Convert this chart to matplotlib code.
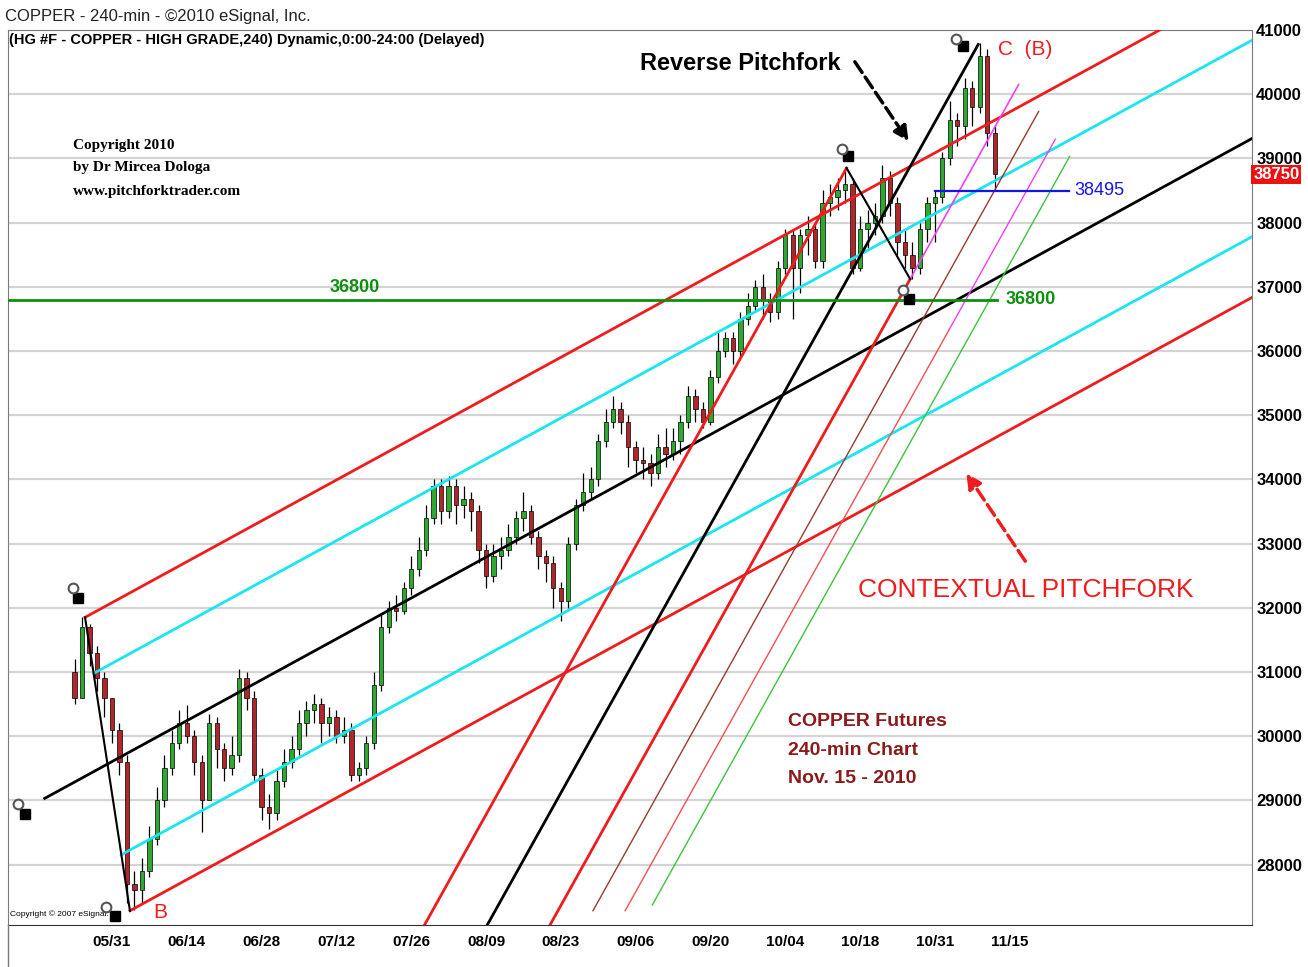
import numpy as np
import matplotlib
matplotlib.use("Agg")
import matplotlib.pyplot as plt
from matplotlib.transforms import offset_copy, blended_transform_factory
from matplotlib.lines import Line2D

plt.rcParams['font.family'] = ['Liberation Sans', 'DejaVu Sans']

# --- DATA ---
# x axis = trading days counted from 05/31
date_ticks = [0, 10, 20, 30, 40, 50, 60, 70, 80, 90, 100, 110, 120]
date_labels = ["05/31", "06/14", "06/28", "07/12", "07/26", "08/09", "08/23",
               "09/06", "09/20", "10/04", "10/18", "10/31", "11/15"]
price_ticks = [28000, 29000, 30000, 31000, 32000, 33000, 34000,
               35000, 36000, 37000, 38000, 39000, 40000, 41000]

first_day = -5
first_open = 31000
closes = [30600, 31700, 31300, 30900, 30600, 30100, 29600, 27700, 27600, 27900,
          28400, 29000, 29500, 29900, 30200, 30000, 29600, 29000, 30200, 29800,
          29500, 29700, 30900, 30600, 29400, 28900, 28800, 29300, 29600, 29800,
          30200, 30400, 30500, 30200, 30300, 30000, 30100, 29400, 29500, 29900,
          30800, 31700, 32000, 31950, 32300, 32600, 32900, 33400, 33900, 33500,
          33900, 33600, 33700, 33500, 32900, 32500, 32800, 32900, 33100, 33400,
          33500, 33100, 32800, 32700, 32300, 32100, 33000, 33600, 33800, 34000,
          34600, 34900, 35100, 34900, 34500, 34300, 34250, 34100, 34500, 34400,
          34600, 34900, 35300, 35100, 34900, 35600, 36000, 36200, 36000, 36500,
          36700, 37000, 36800, 36600, 37300, 37800, 37300, 37800, 37900, 37400,
          38300, 38400, 38500, 38600, 37300, 37900, 38000, 38100, 38700, 38300,
          37700, 37500, 37300, 37900, 38300, 38400, 39000, 39600, 39500, 40100,
          39800, 40600, 39400, 38750]
highs = [31200, 31850, 31750, 31400, 31000, 30600, 30200, 29700, 27900, 28100,
         28600, 29200, 29700, 30100, 30400, 30480, 30100, 29700, 30350, 30300,
         29900, 30000, 31050, 31000, 30700, 29500, 29100, 29500, 29800, 30000,
         30400, 30550, 30650, 30600, 30450, 30400, 30300, 30200, 29600, 30000,
         31000, 31900, 32100, 32200, 32400, 32800, 33100, 33600, 34000, 34000,
         34060, 34000, 33900, 33800, 33600, 33000, 33000, 33100, 33300, 33500,
         33800, 33600, 33200, 32900, 32800, 32400, 33100, 33700, 34100, 34200,
         34700, 35100, 35300, 35200, 35000, 34600, 34500, 34400, 34700, 34800,
         34800, 35000, 35450, 35400, 35200, 35700, 36300, 36300, 36300, 36600,
         36900, 37100, 37200, 36900, 37400, 37900, 37900, 37900, 38100, 38000,
         38500, 38600, 38700, 38850, 38700, 38100, 38200, 38300, 38900, 38800,
         38400, 37900, 37700, 38000, 38400, 38500, 39100, 39900, 39700, 40250,
         40200, 40800, 40700, 39500]
lows = [30500, 30600, 31100, 30700, 30300, 29900, 29400, 27400, 27290, 27400,
        27800, 28300, 28900, 29400, 29800, 29900, 29400, 28500, 29000, 29500,
        29300, 29400, 29600, 30400, 29300, 28700, 28550, 28700, 29200, 29500,
        29700, 30000, 30200, 29900, 30000, 29900, 29900, 29300, 29300, 29400,
        29800, 30700, 31600, 31800, 31900, 32200, 32500, 32800, 33300, 33300,
        33400, 33300, 33400, 33200, 32700, 32300, 32400, 32600, 32800, 33000,
        33200, 33000, 32600, 32400, 32000, 31800, 32000, 32900, 33500, 33700,
        33900, 34500, 34800, 34700, 34200, 34100, 34000, 33900, 34000, 34200,
        34300, 34400, 34800, 34900, 34800, 34850, 35500, 35900, 35800, 35900,
        36400, 36600, 36500, 36450, 36500, 37200, 36500, 36900, 37500, 37300,
        37300, 38100, 38200, 38300, 37200, 37250, 37600, 37800, 38000, 38100,
        37500, 37300, 37120, 37200, 37700, 37700, 38300, 38900, 39200, 39300,
        39500, 39700, 39200, 38495]
last_price = 38750

# contextual pitchfork pivots (day, price)
ctx_handle = (-9.0, 29030)
ctx_high = (-3.6, 31850)
ctx_low = (2.4, 27280)
warning_ratio = 0.618

# reverse pitchfork pivots (day, price)
rev_high = (98.2, 38850)
rev_low = (106.7, 37120)
rev_handle = (115.8, 40775)
rev_ext_top = 40150

# thin parallels to the reverse fork: day where each crosses fan_base
fan_base = 27280
fan_days = [64.3, 68.6, 71.8]
fan_bottoms = [27280, 27280, 27370]
fan_tops = [39730, 39300, 39030]
fan_breaks = [None, 36340, None]

support_level = 36800
support_span = (-14, 118.3)
swing_low = 38495
swing_span = (110, 128)

# --- FIGURE ---
W, H = 1308, 967
fig = plt.figure(figsize=(W / 100, H / 100), dpi=100)
ax = fig.add_axes([8 / W, 1 - 925 / H, (1252 - 8) / W, (925 - 30) / H])
ax.set_xlim(-13.9, 152.4)
ax.set_ylim(27058, 41000)

RED = '#EE1C1C'
CYAN = '#19E6F0'
GREEN = '#0E8F0E'

ax.set_yticks(price_ticks)
ax.grid(axis='y', color='#D4D4D4', lw=1.6, zorder=0)
ax.yaxis.tick_right()
ax.tick_params(axis='y', length=0, pad=3, labelsize=12)
ax.tick_params(axis='x', length=0, pad=7, labelsize=11)
ax.set_xticks(date_ticks)
ax.set_xticklabels(date_labels, fontweight='bold')
for lab in ax.get_yticklabels():
    lab.set_fontweight('bold')
for side in ['top', 'left', 'right']:
    ax.spines[side].set_color('#7A7A7A')
ax.spines['bottom'].set_color('#333333')

# --- candles ---
days = first_day + np.arange(len(closes))
c = np.array(closes, dtype=float)
o = np.r_[first_open, c[:-1]]
up = c >= o
ax.vlines(days, lows, highs, color='black', lw=0.9, zorder=3)
ax.bar(days, np.abs(c - o), bottom=np.minimum(o, c), width=0.58,
       color=np.where(up, '#2EA82E', '#B0262A'), edgecolor='black', lw=0.5, zorder=4)

# --- contextual pitchfork ---
end_d = 160
ha_d, ha_p = ctx_handle
hb_d, hb_p = ctx_high
hc_d, hc_p = ctx_low
mid_d, mid_p = (hb_d + hc_d) / 2, (hb_p + hc_p) / 2
slope = (mid_p - ha_p) / (mid_d - ha_d)


def median(d):
    return ha_p + slope * (d - ha_d)


half_w = hb_p - median(hb_d)
ax.plot([ha_d, end_d], [median(ha_d), median(end_d)], color='black', lw=2, zorder=5)
ax.plot([hb_d, end_d], [hb_p, hb_p + slope * (end_d - hb_d)], color=RED, lw=2, zorder=5)
ax.plot([hc_d, end_d], [hc_p, hc_p + slope * (end_d - hc_d)], color=RED, lw=2, zorder=5)
for sign in (1, -1):
    t = (1 - sign * warning_ratio) / 2
    sd = hb_d + t * (hc_d - hb_d)
    off = sign * warning_ratio * half_w
    ax.plot([sd, end_d], [median(sd) + off, median(end_d) + off], color=CYAN, lw=2, zorder=5)
ax.plot([hb_d, hc_d], [hb_p, hc_p], color='black', lw=1.5, zorder=5)

# --- reverse pitchfork ---
p1d, p1p = rev_high
p2d, p2p = rev_low
p3d, p3p = rev_handle
rm_d, rm_p = (p1d + p2d) / 2, (p1p + p2p) / 2
rslope = (p3p - rm_p) / (p3d - rm_d)
bottom = 26500


def day_at(d0, p0, price):
    return d0 + (price - p0) / rslope


ax.plot([day_at(p3d, p3p, bottom), p3d], [bottom, p3p], color='black', lw=2, zorder=5)
ax.plot([day_at(p1d, p1p, bottom), p1d], [bottom, p1p], color=RED, lw=2, zorder=5)
ax.plot([day_at(p2d, p2p, bottom), p2d], [bottom, p2p], color=RED, lw=2, zorder=5)
ax.plot([p2d, day_at(p2d, p2p, rev_ext_top)], [p2p, rev_ext_top], color='#F040F0', lw=1.2, zorder=5)
ax.plot([p1d, p2d], [p1p, p2p], color='black', lw=1.5, zorder=5)

fan_lower = ['#9A3B2E', '#F05050', '#3CC43C']
fan_upper = ['#9A3B2E', '#F040F0', '#3CC43C']
for fd, lo, hi, br, cl, cu in zip(fan_days, fan_bottoms, fan_tops, fan_breaks, fan_lower, fan_upper):
    mid = hi if br is None else br
    ax.plot([day_at(fd, fan_base, lo), day_at(fd, fan_base, mid)], [lo, mid], color=cl, lw=1, zorder=5)
    if br is not None:
        ax.plot([day_at(fd, fan_base, br), day_at(fd, fan_base, hi)], [br, hi], color=cu, lw=1, zorder=5)

# --- horizontal levels ---
ax.plot(support_span, [support_level] * 2, color=GREEN, lw=2, zorder=5)
ax.plot(swing_span, [swing_low] * 2, color='#1414E6', lw=1.6, zorder=5)
ax.text(32.5, support_level + 60, f'{support_level}', color=GREEN, fontsize=13,
        fontweight='bold', ha='center', va='bottom', zorder=6)
ax.text(119.4, support_level, f'{support_level}', color=GREEN, fontsize=13,
        fontweight='bold', ha='left', va='center', zorder=6)
ax.text(128.7, swing_low, f'{swing_low}', color='#1414E6', fontsize=13,
        ha='left', va='center', zorder=6)

# --- pivot handle markers ---
handles = [ctx_handle, ctx_high, ctx_low, rev_high, rev_low, rev_handle]
sq_offsets = [(-14, -11), (-5, 14), (-11, -4), (1, 9), (-1, -14), (-11, -1)]
lens_offsets = [(-19, -4), (-9, 21), (-17, 3), (-3, 14), (-5, -8), (-16, 4)]
for (hd, hp), sq, ln in zip(handles, sq_offsets, lens_offsets):
    tr = offset_copy(ax.transData, fig=fig, x=sq[0], y=sq[1], units='points')
    ax.plot(hd, hp, 's', color='black', ms=7, transform=tr, zorder=8, clip_on=False)
    tr = offset_copy(ax.transData, fig=fig, x=ln[0], y=ln[1], units='points')
    ax.plot(hd, hp, 'o', mfc='white', mec='#555555', mew=1.5, ms=7, transform=tr, zorder=9, clip_on=False)

# --- annotations ---
ax.text(6.4, 27260, 'B', color=RED, fontsize=15, ha='center', va='center', zorder=7)
ax.text(118.4, 40700, 'C  (B)', color=RED, fontsize=15, ha='left', va='center', zorder=7)
ax.text(84.0, 40480, 'Reverse Pitchfork', fontsize=17, fontweight='bold',
        ha='center', va='center', zorder=7)
ax.annotate('', xy=(106.7, 39230), xytext=(99.1, 40540),
            arrowprops=dict(arrowstyle='-|>', color='black', lw=2.5, ls='--',
                            mutation_scale=22), zorder=7)
ax.text(122.1, 32270, 'CONTEXTUAL PITCHFORK', color=RED, fontsize=19,
        ha='center', va='center', zorder=7)
ax.annotate('', xy=(114.0, 34130), xytext=(122.3, 32690),
            arrowprops=dict(arrowstyle='-|>', color=RED, lw=2.5, ls='--',
                            mutation_scale=22), zorder=7)
for txt, yy in zip(['COPPER Futures', '240-min Chart', 'Nov. 15 - 2010'], [30230, 29780, 29340]):
    ax.text(90.4, yy, txt, color='#8B1A1A', fontsize=14, fontweight='bold',
            ha='left', va='center', zorder=7)

tb = dict(fontsize=11, fontweight='bold', family=['Liberation Serif', 'DejaVu Serif'],
          transform=ax.transAxes, ha='left', va='center')
ax.text(65 / 1244, 1 - 115 / 895, 'Copyright 2010', **tb)
ax.text(65 / 1244, 1 - 138 / 895, 'by Dr Mircea Dologa', **tb)
ax.text(65 / 1244, 1 - 161 / 895, 'www.pitchforktrader.com', **tb)
ax.text(0.002, 0.012, 'Copyright \u00a9 2007 eSignal.', fontsize=6, transform=ax.transAxes,
        ha='left', va='center', zorder=7)

# current price box on the right axis
bt = blended_transform_factory(ax.transAxes, ax.transData)
ax.text(1.001, last_price, f'{last_price}', transform=bt, color='white', fontsize=12,
        fontweight='bold', ha='left', va='center', zorder=9,
        bbox=dict(boxstyle='square,pad=0.12', fc='#EE1111', ec='none'))

# --- header ---
fig.text(5 / W, 1 - 17 / H, 'COPPER - 240-min - \u00a92010 eSignal, Inc.', fontsize=12,
         color='#222222', ha='left', va='center')
fig.text(9 / W, 1 - 40 / H, '(HG #F - COPPER - HIGH GRADE,240) Dynamic,0:00-24:00 (Delayed)',
         fontsize=10.5, fontweight='bold', ha='left', va='center')
fig.add_artist(Line2D([8 / W, 8 / W], [0, 1 - 925 / H], color='#7A7A7A', lw=1))

fig.savefig('out.png', dpi=100, facecolor='white')
